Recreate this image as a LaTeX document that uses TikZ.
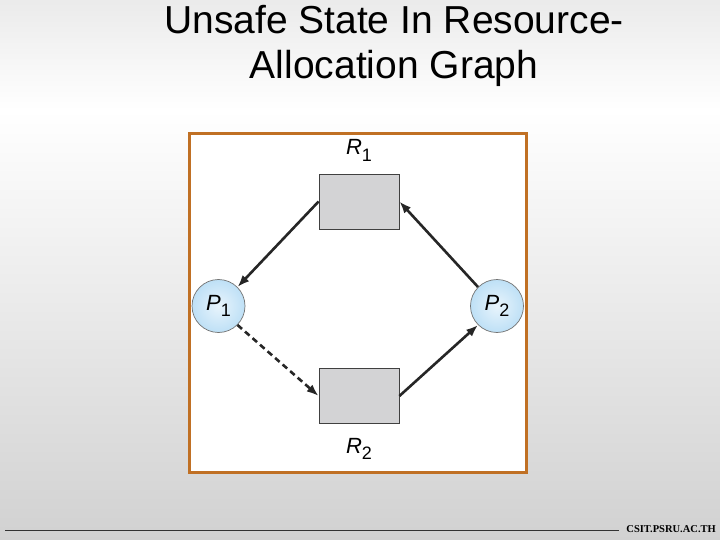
\documentclass[tikz,border=0pt]{standalone}
\usepackage{fontspec}
\setmainfont{Liberation Sans}
\newfontfamily\footfont{Liberation Serif}
\usetikzlibrary{arrows.meta,positioning}

\definecolor{frameorange}{RGB}{192,112,36}
\definecolor{resgray}{RGB}{211,211,213}
\definecolor{procblue}{RGB}{190,224,246}
\newcommand{\sublbl}[2]{\textit{#1}\raisebox{-0.3em}{\fontsize{18}{18}\selectfont #2}}

\begin{document}
\begin{tikzpicture}[x=1pt, y=-1pt,
  res/.style={draw=black!75, fill=resgray, line width=0.8pt,
    minimum width=80pt, minimum height=55pt, inner sep=0pt},
  proc/.style={circle, draw=black!55, line width=0.7pt, minimum size=53pt,
    inner sep=0pt, inner color=procblue!35, outer color=procblue,
    font=\fontsize{22}{22}\selectfont},
  lbl/.style={font=\fontsize{22}{22}\selectfont, inner sep=0pt},
  titletext/.style={font=\fontsize{39}{47}\selectfont, inner sep=0pt,
    anchor=base},
  arr/.style={-{Latex[length=12pt, width=9pt]}, line width=2.6pt, black!85},
  dasharr/.style={arr, dash pattern=on 6pt off 4pt}
]
  % background
  \shade[top color=black!8, bottom color=white] (0,0) rectangle (720,110);
  \shade[top color=white, bottom color=black!18] (0,110) rectangle (720,540);
  \useasboundingbox (0,0) rectangle (720,540);

  % title
  \node[titletext] (title1) at (394,34) {Unsafe State In Resource-};
  \node[titletext] (title2) at (394,79) {Allocation Graph};

  % frame
  \draw[frameorange, line width=3pt, fill=white] (189,134) rectangle (526,472);

  \node[res] (r1) at (359,201.5) {};
  \node[res] (r2) at (359,396) {};
  \node[proc] (p1) at (218.5,306) {\sublbl{P}{1}};
  \node[proc] (p2) at (497,306) {\sublbl{P}{2}};
  \node[lbl, above=12pt of r1] (r1lbl) {\sublbl{R}{1}};
  \node[lbl, below=14pt of r2] (r2lbl) {\sublbl{R}{2}};

  \draw[arr] (r1.west) -- (p1.north east);
  \draw[arr] (p2.north west) -- (r1.east);
  \draw[dasharr] (p1.south east) -- (r2.west);
  \draw[arr] (r2.east) -- (p2.south west);

  % footer
  \node[font=\footfont\bfseries\fontsize{10.5}{11}\selectfont, anchor=base east,
    inner sep=0pt] (foot) at (716,532) {CSIT.PSRU.AC.TH};
  \coordinate (footstart) at (5,530.5);
  \coordinate (footend) at (619,530.5);
  \draw[black!80, line width=0.8pt] (footstart) -- (footend);
\end{tikzpicture}
\end{document}
